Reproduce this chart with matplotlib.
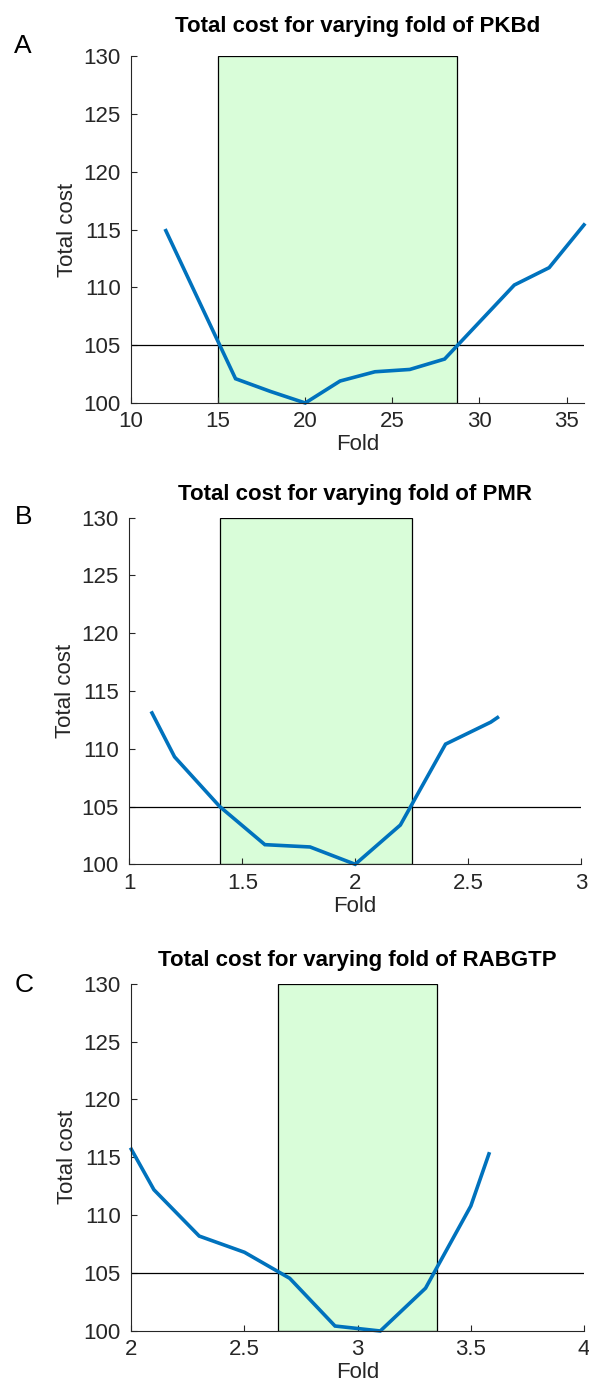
import matplotlib
matplotlib.use("Agg")
import matplotlib.pyplot as plt
from matplotlib.patches import Rectangle

plt.rcParams['font.family'] = ['Liberation Sans', 'DejaVu Sans']

# panel A: PKBd
fold_a = [12, 16, 18, 20, 22, 24, 26, 28, 30, 32, 34, 36]
cost_a = [114.9, 102.1, 101.0, 100.0, 101.9, 102.7, 102.9, 103.8, 107.0, 110.2, 111.7, 115.4]
# panel B: PMR
fold_b = [1.1, 1.2, 1.4, 1.6, 1.8, 2.0, 2.2, 2.4, 2.6, 2.63]
cost_b = [113.1, 109.3, 105.0, 101.7, 101.5, 100.0, 103.4, 110.4, 112.3, 112.7]
# panel C: RABGTP
fold_c = [2.0, 2.1, 2.3, 2.5, 2.7, 2.9, 3.1, 3.3, 3.5, 3.58]
cost_c = [115.7, 112.2, 108.2, 106.8, 104.55, 100.43, 100.0, 103.7, 110.8, 115.3]

names = ['PKBd', 'PMR', 'RABGTP']
letters = ['A', 'B', 'C']
folds = [fold_a, fold_b, fold_c]
costs = [cost_a, cost_b, cost_c]
spans = [(15, 28.7), (1.4, 2.25), (2.65, 3.35)]
xlims = [(10, 36), (1, 3), (2, 4)]
xticks = [[10, 15, 20, 25, 30, 35], [1, 1.5, 2, 2.5, 3], [2, 2.5, 3, 3.5, 4]]
xticklabels = [['10', '15', '20', '25', '30', '35'], ['1', '1.5', '2', '2.5', '3'], ['2', '2.5', '3', '3.5', '4']]
threshold = 105

W, H = 589, 1385
# axes boxes in pixels: left, right, top, bottom
boxes = [(131, 584, 56, 403), (129.4, 581, 517.7, 864.3), (131.3, 584, 983.7, 1331)]
letter_pos = [(14, 53), (15, 524), (15, 992)]
title_pads = [17, 13, 13]

fig = plt.figure(figsize=(W / 100, H / 100), dpi=100)
grey = '#262626'

for i in range(3):
    l, r, t, b = boxes[i]
    ax = fig.add_axes([l / W, 1 - b / H, (r - l) / W, (b - t) / H])
    x0, x1 = spans[i]
    ax.add_patch(Rectangle((x0, 100), x1 - x0, 30, facecolor='#d9fdd9',
                           edgecolor='black', linewidth=0.9, zorder=1))
    ax.axhline(threshold, color='black', linewidth=0.9, zorder=2)
    ax.plot(folds[i], costs[i], color='#0072BD', linewidth=2.6, zorder=3,
            solid_joinstyle='miter', clip_on=False)
    ax.set_xlim(*xlims[i])
    ax.set_ylim(100, 130)
    ax.set_xticks(xticks[i])
    ax.set_xticklabels(xticklabels[i])
    ax.set_yticks([100, 105, 110, 115, 120, 125, 130])
    for s in ['top', 'right']:
        ax.spines[s].set_visible(False)
    for s in ['left', 'bottom']:
        ax.spines[s].set_color(grey)
        ax.spines[s].set_linewidth(0.8)
        ax.spines[s].set_zorder(4)
    ax.tick_params(direction='in', length=4, width=0.8, color=grey,
                   labelcolor=grey, labelsize=16)
    ax.tick_params(axis='y', pad=7.5)
    ax.tick_params(axis='x', pad=6)
    ax.set_xlabel('Fold', fontsize=16, color=grey, labelpad=1.5)
    ax.set_ylabel('Total cost', fontsize=16, color=grey, labelpad=4)
    ax.set_title('Total cost for varying fold of ' + names[i], fontsize=16,
                 fontweight='bold', pad=title_pads[i])
    lx, ly = letter_pos[i]
    fig.text(lx / W, 1 - ly / H, letters[i], fontsize=19, ha='left', va='baseline')

fig.savefig('out.png', dpi=100)
